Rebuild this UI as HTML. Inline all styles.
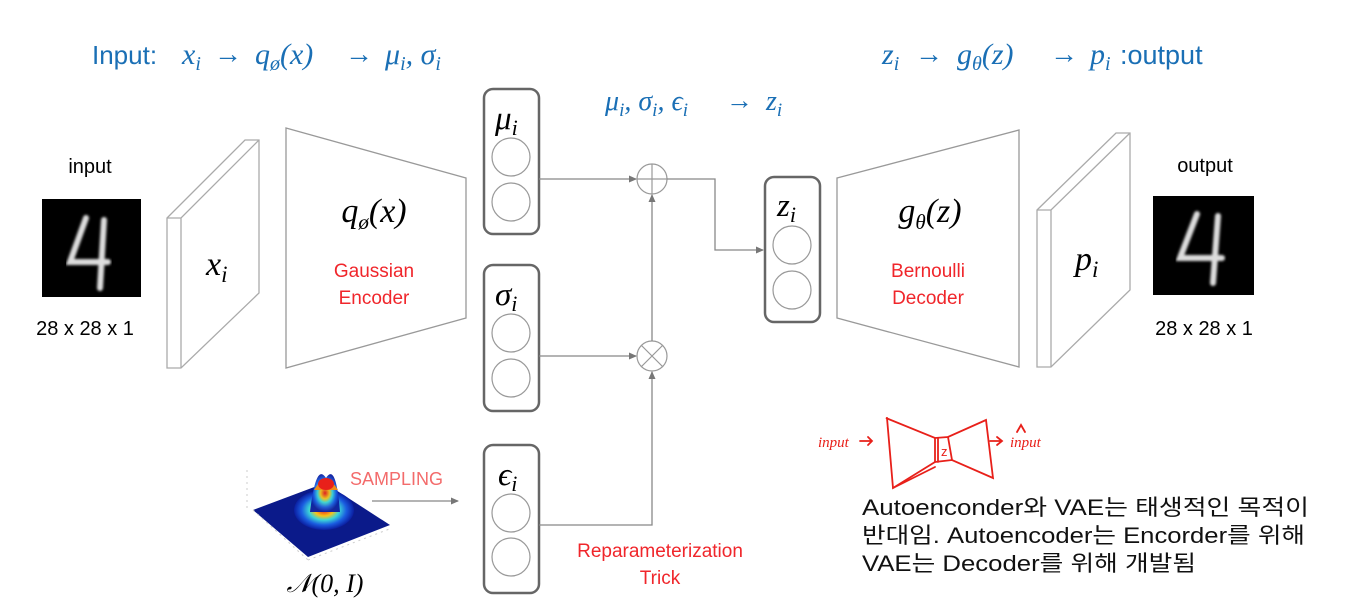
<!DOCTYPE html>
<html><head><meta charset="utf-8"><style>
html,body{margin:0;padding:0;background:#fff;width:1348px;height:612px;overflow:hidden}
svg{display:block}
.m{font-family:"Liberation Serif",serif;font-style:italic}
.s{font-family:"Liberation Sans",sans-serif}
.k{font-family:"Liberation Sans","Noto Sans CJK KR",sans-serif}
</style></head><body>
<svg width="1348" height="612" viewBox="0 0 1348 612" xmlns="http://www.w3.org/2000/svg">
<defs>
<marker id="ar" markerWidth="8" markerHeight="8" refX="7" refY="4" orient="auto" markerUnits="userSpaceOnUse"><path d="M0,0.5 L8,4 L0,7.5z" fill="#777"/></marker>
<radialGradient id="g" cx="50%" cy="50%" r="50%"><stop offset="0" stop-color="#e8201a"/><stop offset="0.3" stop-color="#f6c419"/><stop offset="0.5" stop-color="#3bd4d8"/><stop offset="0.75" stop-color="#1a5ce0"/><stop offset="1" stop-color="#0b1ea0"/></radialGradient>
<filter id="bl"><feGaussianBlur stdDeviation="1.2"/></filter>
</defs>

<!-- Top texts -->
<g fill="#1a6fb5">
<text x="92" y="64" class="s" font-size="26">Input:</text>
<text x="182" y="64" class="m" font-size="30">x<tspan font-size="20" dy="6">i</tspan></text>
<text x="214" y="63" class="s" font-size="28" font-weight="bold">→</text>
<text x="255" y="64" class="m" font-size="30">q<tspan font-size="20" dy="6">ø</tspan><tspan dy="-6">(x)</tspan></text>
<text x="345" y="63" class="s" font-size="28" font-weight="bold">→</text>
<text x="385" y="64" class="m" font-size="30">μ<tspan font-size="20" dy="6">i</tspan><tspan dy="-6">, σ</tspan><tspan font-size="20" dy="6">i</tspan></text>

<text x="882" y="64" class="m" font-size="30">z<tspan font-size="20" dy="6">i</tspan></text>
<text x="915" y="63" class="s" font-size="28" font-weight="bold">→</text>
<text x="957" y="64" class="m" font-size="30">g<tspan font-size="20" dy="6">θ</tspan><tspan dy="-6">(z)</tspan></text>
<text x="1050" y="63" class="s" font-size="28" font-weight="bold">→</text>
<text x="1090" y="64" class="m" font-size="30">p<tspan font-size="20" dy="6">i</tspan></text>
<text x="1120" y="64" class="s" font-size="27">:output</text>

<text x="605" y="110" class="m" font-size="28">μ<tspan font-size="19" dy="6">i</tspan><tspan dy="-6">, σ</tspan><tspan font-size="19" dy="6">i</tspan><tspan dy="-6">, ϵ</tspan><tspan font-size="19" dy="6">i</tspan></text>
<text x="726" y="109" class="s" font-size="27" font-weight="bold">→</text>
<text x="766" y="110" class="m" font-size="28">z<tspan font-size="19" dy="6">i</tspan></text>
</g>

<!-- input -->
<text x="90" y="173" class="s" font-size="20" text-anchor="middle">input</text>
<rect x="42" y="199" width="99" height="98" fill="#000"/>
<path d="M86,218 L70,262 L108,262 M104,220 L100,288" stroke="#ddd" stroke-width="6" fill="none" stroke-linecap="round" filter="url(#bl)"/>
<text x="85" y="335" class="s" font-size="20" text-anchor="middle">28 x 28 x 1</text>

<!-- left slab -->
<g fill="#fff" stroke="#aaa" stroke-width="1.3">
<path d="M167,218 L245,140 L259,140 L259,293 L181,368 L167,368 Z"/>
<path d="M167,218 L181,218 L259,140 M181,218 L181,368" fill="none"/>
</g>
<text x="206" y="275" class="m" font-size="34">x<tspan font-size="23" dy="7">i</tspan></text>

<!-- encoder -->
<path d="M286,128 L466,178 L466,318 L286,368 Z" fill="#fff" stroke="#999" stroke-width="1.3"/>
<text x="374" y="222" class="m" font-size="34" text-anchor="middle">q<tspan font-size="21" dy="7">ø</tspan><tspan dy="-7">(x)</tspan></text>
<text x="374" y="277" class="s" font-size="19" fill="#f0262b" text-anchor="middle">Gaussian</text>
<text x="374" y="304" class="s" font-size="19" fill="#f0262b" text-anchor="middle">Encoder</text>

<!-- boxes -->
<g fill="#fff" stroke="#666" stroke-width="2.5">
<rect x="484" y="89" width="55" height="145" rx="9"/>
<rect x="484" y="265" width="55" height="146" rx="9"/>
<rect x="484" y="445" width="55" height="148" rx="9"/>
<rect x="765" y="177" width="55" height="145" rx="9"/>
</g>
<g fill="none" stroke="#999" stroke-width="1.2">
<circle cx="511" cy="157" r="19"/><circle cx="511" cy="202" r="19"/>
<circle cx="511" cy="333" r="19"/><circle cx="511" cy="378" r="19"/>
<circle cx="511" cy="513" r="19"/><circle cx="511" cy="557" r="19"/>
<circle cx="792" cy="245" r="19"/><circle cx="792" cy="290" r="19"/>
</g>
<text x="495" y="129" class="m" font-size="33">μ<tspan font-size="22" dy="6">i</tspan></text>
<text x="495" y="305" class="m" font-size="33">σ<tspan font-size="22" dy="6">i</tspan></text>
<text x="498" y="485" class="m" font-size="33">ϵ<tspan font-size="22" dy="6">i</tspan></text>
<text x="777" y="216" class="m" font-size="33">z<tspan font-size="22" dy="6">i</tspan></text>

<!-- ops -->
<g fill="#fff" stroke="#999" stroke-width="1.2">
<circle cx="652" cy="179" r="15"/><circle cx="652" cy="356" r="15"/>
</g>
<path d="M637,179 H667 M652,164 V194 M641,345 L663,367 M663,345 L641,367" stroke="#999" stroke-width="1.2"/>
<g stroke="#888" stroke-width="1.3" fill="none">
<path d="M539,179 H636" marker-end="url(#ar)"/>
<path d="M539,356 H636" marker-end="url(#ar)"/>
<path d="M539,525 H652 V372" marker-end="url(#ar)"/>
<path d="M652,341 V195" marker-end="url(#ar)"/>
<path d="M667,179 H715 V250 H763" marker-end="url(#ar)"/>
<path d="M372,501 H458" marker-end="url(#ar)"/>
</g>

<!-- decoder -->
<path d="M837,178 L1019,130 L1019,367 L837,318 Z" fill="#fff" stroke="#999" stroke-width="1.3"/>
<text x="930" y="222" class="m" font-size="34" text-anchor="middle">g<tspan font-size="21" dy="7">θ</tspan><tspan dy="-7">(z)</tspan></text>
<text x="928" y="277" class="s" font-size="19" fill="#f0262b" text-anchor="middle">Bernoulli</text>
<text x="928" y="304" class="s" font-size="19" fill="#f0262b" text-anchor="middle">Decoder</text>

<!-- right slab -->
<g fill="#fff" stroke="#aaa" stroke-width="1.3">
<path d="M1037,210 L1116,133 L1130,133 L1130,290 L1051,367 L1037,367 Z"/>
<path d="M1037,210 L1051,210 L1130,133 M1051,210 L1051,367" fill="none"/>
</g>
<text x="1075" y="270" class="m" font-size="34">p<tspan font-size="23" dy="7">i</tspan></text>

<!-- output -->
<text x="1205" y="172" class="s" font-size="20" text-anchor="middle">output</text>
<rect x="1153" y="196" width="101" height="99" fill="#000"/>
<path d="M1197,214 L1180,258 L1222,258 M1218,216 L1213,283" stroke="#ddd" stroke-width="6" fill="none" stroke-linecap="round" filter="url(#bl)"/>
<text x="1204" y="335" class="s" font-size="20" text-anchor="middle">28 x 28 x 1</text>

<!-- gaussian -->
<path d="M253,510 L325,483 L390,525 L308,557 Z" fill="#0b1a8a"/>
<ellipse cx="324" cy="510" rx="30" ry="20" fill="url(#g)"/>
<path d="M310,512 Q316,462 326,478 Q336,462 340,512 Z" fill="url(#g)" opacity="0.95"/>
<path d="M314,490 Q326,470 338,490" fill="#f08a1a"/>
<ellipse cx="326" cy="484" rx="8" ry="6" fill="#e8201a"/>
<path d="M247,470 V510 M253,510 L308,560 M308,560 L392,528" stroke="#ccc" stroke-width="1" stroke-dasharray="2,4" fill="none"/>
<text x="350" y="485" class="s" font-size="18" fill="#f36b6b">SAMPLING</text>
<text x="325" y="592" class="m" font-size="26" text-anchor="middle">𝒩(0, I)</text>

<text x="660" y="557" class="s" font-size="19" fill="#f0262b" text-anchor="middle">Reparameterization</text>
<text x="660" y="584" class="s" font-size="19" fill="#f0262b" text-anchor="middle">Trick</text>

<!-- hand sketch -->
<g stroke="#e8201a" stroke-width="1.8" fill="none" stroke-linecap="round">
<path d="M886,418 L935,438 L948,437 L986,420 L993,478 L952,460 L935,462 L893,488 L887,418 Z"/>
<path d="M935,438 L935,462 M938,438 L938,462 M948,437 L952,460 M893,488 L935,467"/>
<path d="M990,441 H1002 M997,437 L1002,441 L997,445"/>
<path d="M860,441 H872 M868,437 L872,441 L868,445"/>
<path d="M1017,432 L1021,425 L1025,432"/>
</g>
<text x="818" y="447" font-family="Liberation Serif,serif" font-style="italic" font-size="15" fill="#e8201a">input</text>
<text x="941" y="456" font-family="Liberation Sans,sans-serif" font-size="13" fill="#e8201a">z</text>
<text x="1010" y="447" font-family="Liberation Serif,serif" font-style="italic" font-size="15" fill="#e8201a">input</text>

<!-- korean -->
<text class="k" font-size="22" fill="#111" x="862" y="515" textLength="447" lengthAdjust="spacingAndGlyphs">Autoenconder와 VAE는 태생적인 목적이</text>
<text class="k" font-size="22" fill="#111" x="862" y="543" textLength="443" lengthAdjust="spacingAndGlyphs">반대임. Autoencoder는 Encorder를 위해</text>
<text class="k" font-size="22" fill="#111" x="862" y="571" textLength="334" lengthAdjust="spacingAndGlyphs">VAE는 Decoder를 위해 개발됨</text>
</svg>
</body></html>
